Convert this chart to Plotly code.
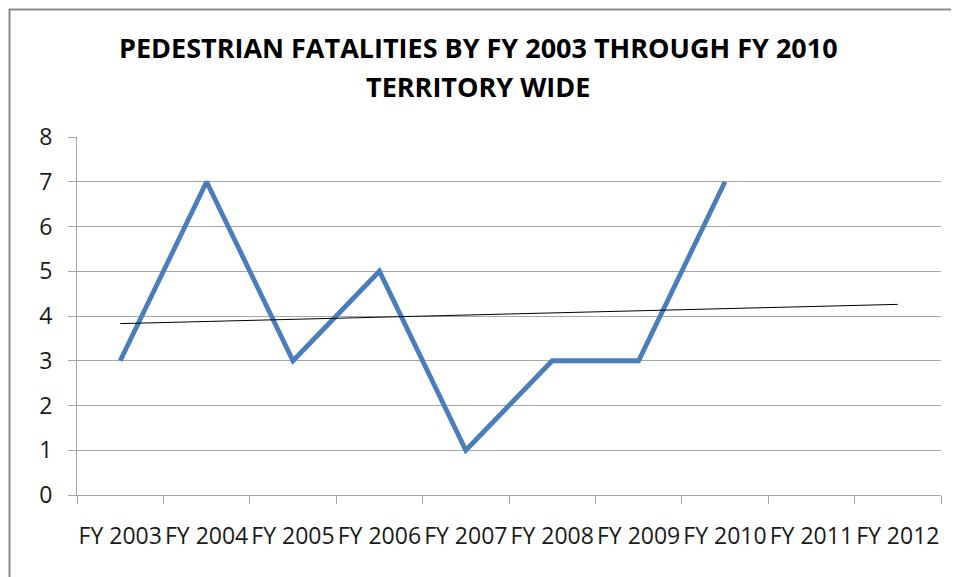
import plotly.graph_objects as go

categories = ["FY 2003", "FY 2004", "FY 2005", "FY 2006", "FY 2007",
              "FY 2008", "FY 2009", "FY 2010", "FY 2011", "FY 2012"]
fatalities_years = ["FY 2003", "FY 2004", "FY 2005", "FY 2006", "FY 2007",
                    "FY 2008", "FY 2009", "FY 2010"]
fatalities = [3, 7, 3, 5, 1, 3, 3, 7]
trend_years = ["FY 2003", "FY 2012"]
trend_values = [3.83, 4.26]
y_ticks = [0, 1, 2, 3, 4, 5, 6, 7, 8]

OFF = 8  # page body margin
W, H = 959 - OFF, 577 - OFF
L, R, T, B = 77 - OFF, 18, 137 - OFF, 82
pw, ph = W - L - R, H - T - B

def px(x):  # screen px -> paper
    return (x - OFF - L) / pw

def py(y):
    return (H - B - (y - OFF)) / ph

FONT = "Open Sans, Lato, sans-serif"
GRID = "#a6a6a6"

fig = go.Figure()
fig.add_trace(go.Scatter(x=fatalities_years, y=fatalities, mode="lines",
                         line=dict(color="#4a7ebb", width=4.8),
                         showlegend=False, hoverinfo="x+y"))
fig.add_trace(go.Scatter(x=trend_years, y=trend_values, mode="lines",
                         line=dict(color="#000000", width=1),
                         showlegend=False, hoverinfo="skip"))

fig.update_layout(
    width=W, height=H,
    margin=dict(l=L, r=R, t=T, b=B, autoexpand=False),
    paper_bgcolor="white", plot_bgcolor="white",
    font=dict(family=FONT, size=23, color="#1a1a1a"),
    xaxis=dict(type="category", categoryorder="array", categoryarray=categories,
               range=[-0.5, len(categories) - 0.5], automargin=False,
               tickangle=0,
               tickson="boundaries", ticks="outside", ticklen=8, tickcolor=GRID,
               showline=True, linecolor=GRID, linewidth=1,
               showgrid=False, zeroline=False, ticklabelstandoff=20,
               tickfont=dict(family=FONT, size=23, color="#1a1a1a")),
    yaxis=dict(range=[0, 8], tickvals=y_ticks, ticks="outside", ticklen=8,
               automargin=False,
               tickcolor=GRID, showline=True, linecolor=GRID, linewidth=1,
               showgrid=True, gridcolor=GRID, gridwidth=1, zeroline=False,
               ticklabelstandoff=11,
               tickfont=dict(family=FONT, size=23, color="#1a1a1a")),
    shapes=[dict(type="rect", xref="paper", yref="paper",
                 x0=px(9.5), x1=px(990), y0=py(610), y1=py(9.5),
                 line=dict(color="#8c8c8c", width=2), layer="below")],
    annotations=[
        dict(text="<b>PEDESTRIAN FATALITIES BY FY 2003 THROUGH FY 2010</b>",
             xref="paper", yref="paper", x=px(478), y=py(47),
             xanchor="center", yanchor="middle", showarrow=False,
             font=dict(family=FONT, size=27, color="#000000")),
        dict(text="<b>TERRITORY WIDE</b>",
             xref="paper", yref="paper", x=px(478), y=py(86),
             xanchor="center", yanchor="middle", showarrow=False,
             font=dict(family=FONT, size=27, color="#000000")),
    ],
)

fig.write_html("out.html")
